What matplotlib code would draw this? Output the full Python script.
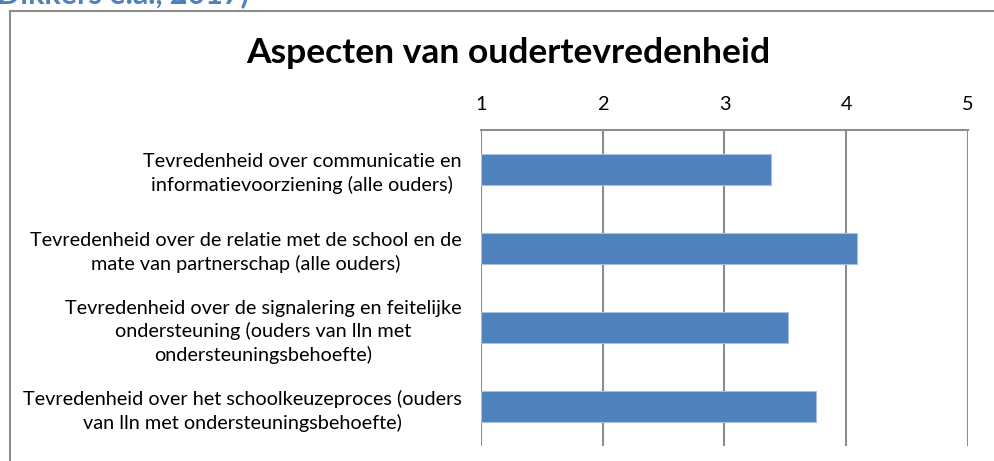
import matplotlib
matplotlib.use("Agg")
import matplotlib.pyplot as plt
from matplotlib.lines import Line2D

categories = [
    "Tevredenheid over communicatie en\ninformatievoorziening (alle ouders)",
    "Tevredenheid over de relatie met de school en de\nmate van partnerschap (alle ouders)",
    "Tevredenheid over de signalering en feitelijke\nondersteuning (ouders van lln met\nondersteuningsbehoefte)",
    "Tevredenheid over het schoolkeuzeproces (ouders\nvan lln met ondersteuningsbehoefte)",
]
values = [3.38, 4.09, 3.52, 3.75]
xticks = [1, 2, 3, 4, 5]
title = "Aspecten van oudertevredenheid"
caption = "Dikkers e.a., 2017)"

plt.rcParams['font.family'] = ['Lato', 'DejaVu Sans']

W, H = 994, 461
fig = plt.figure(figsize=(W / 100, H / 100), dpi=100)

left, right, top, bottom = 481, 968, 130, 446
ax = fig.add_axes([left / W, 1 - bottom / H, (right - left) / W, (bottom - top) / H])

ypos = list(range(len(categories)))
ax.barh(ypos, [v - 1 for v in values], left=1, height=0.39,
        color='#4F81BD', edgecolor='#A7BFE0', linewidth=0.8, zorder=3)

ax.set_xlim(1, 5)
ax.set_ylim(3.5, -0.5)
ax.set_xticks(xticks)
ax.set_xticklabels([str(t) for t in xticks])
ax.xaxis.tick_top()
ax.tick_params(axis='x', length=0, pad=12, labelsize=14.3, colors='black')
ax.grid(axis='x', color='#8C8C8C', linewidth=1.5, zorder=1)
ax.set_yticks(ypos)
ax.set_yticklabels(categories, multialignment='center', fontsize=14.3, linespacing=1.37)
ax.tick_params(axis='y', length=0, pad=14)

for s in ['left', 'right', 'bottom']:
    ax.spines[s].set_visible(False)
ax.spines['top'].set_color('#8C8C8C')
ax.spines['top'].set_linewidth(1.5)

fig.text(508 / W, 1 - 53 / H, title, ha='center', va='center',
         fontsize=25.5, fontweight='bold', color='black')

fig.text(-3 / W, 1 - 3 / H, caption, ha='left', va='baseline',
         fontsize=22, fontweight='bold', color='#4F81BD')

# outer chart frame (partially cropped)
fig.add_artist(Line2D([9.5 / W, 1.0], [1 - 11 / H, 1 - 11 / H], color='#8C8C8C', linewidth=1.5))
fig.add_artist(Line2D([9.5 / W, 9.5 / W], [1 - 11 / H, 0], color='#8C8C8C', linewidth=1.5))

fig.savefig("out.png", dpi=100)
